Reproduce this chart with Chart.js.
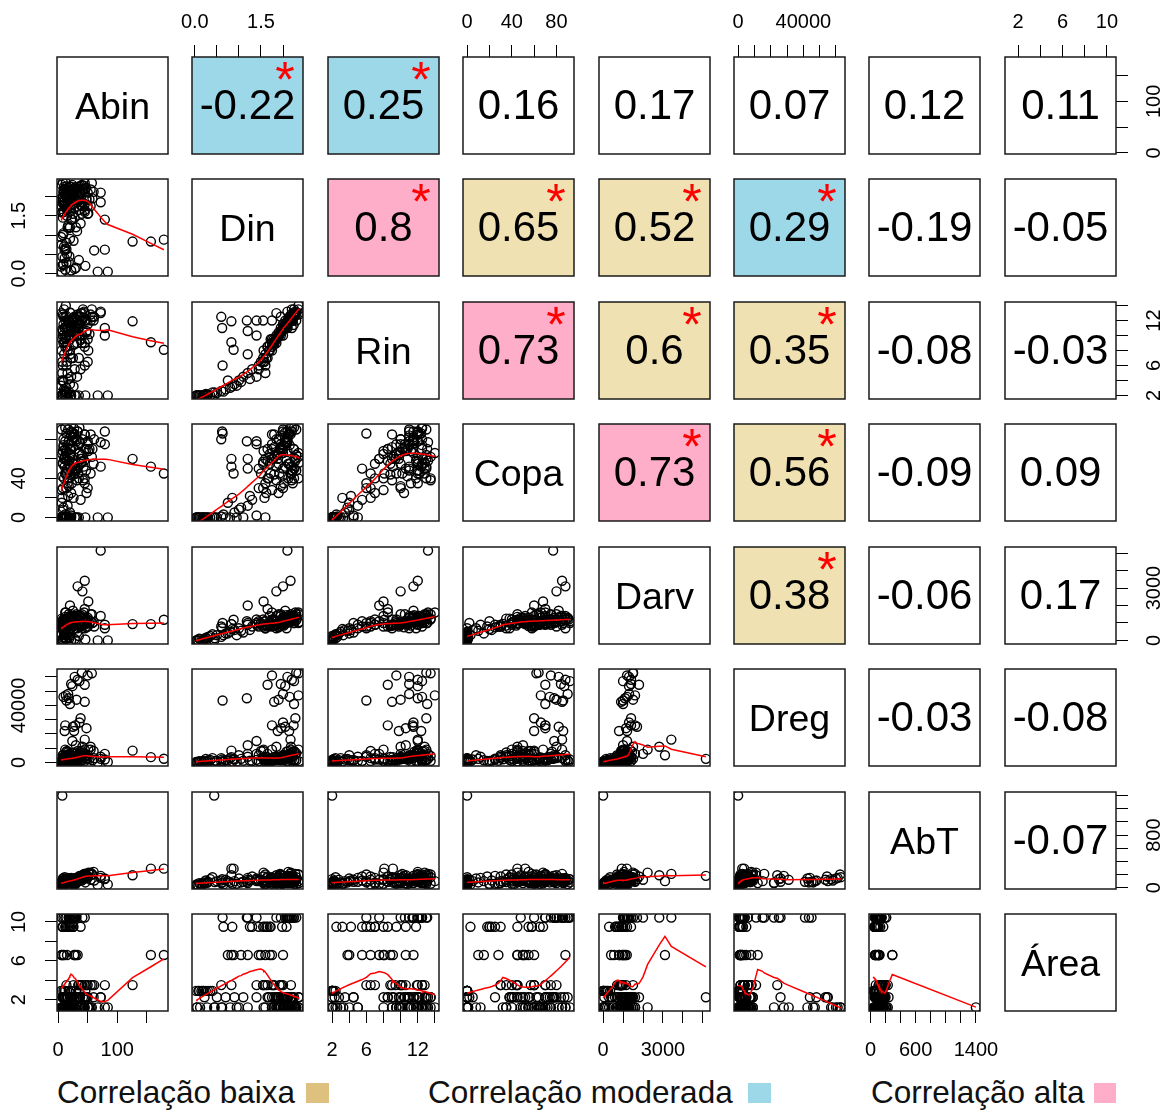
<!DOCTYPE html>
<html>
<head>
<meta charset="utf-8">
<script src="https://cdn.jsdelivr.net/npm/chart.js@4.4.1/dist/chart.umd.min.js"></script>
<style>
html,body{margin:0;padding:0;background:#fff;}
#wrap{position:relative;width:1168px;height:1112px;overflow:hidden;background:#fff;}
#wrap canvas{position:absolute;}
.lg{position:absolute;top:1077px;font-family:'Liberation Sans',Arial,sans-serif;font-size:31.5px;line-height:31px;color:#111;white-space:nowrap;}
.sq{position:absolute;top:1083px;height:20px;}
</style>
</head>
<body>
<div id="wrap">
  <div class="lg" style="left:57px">Correlação baixa</div>
  <div class="sq" style="left:306px;width:23px;background:#DFC17F"></div>
  <div class="lg" style="left:428px">Correlação moderada</div>
  <div class="sq" style="left:748px;width:23px;background:#9DD8E9"></div>
  <div class="lg" style="left:871px">Correlação alta</div>
  <div class="sq" style="left:1094px;width:22px;background:#FFAEC9"></div>
</div>
<script>
// ---------------- data ----------------
const varNames = ['Abin','Din','Rin','Copa','Darv','Dreg','AbT','Área'];

const abin = [30,46,67,84,7,12,18,22,9,35,15,6,11,28,8,19,5,14,
  10,14,20,8,32,16,26,38,12,6,9,5,22,7,17,11,
  61,79,72,79,55,50,58,
  126,157,179,
  14,18,24,30,40,
  72,45,41,51,20,33,
  28,33,22,40,24,50,36,45,57,
  9,31,20,13,45,17,
  12,36,11,25,48,38,
  8,15,25,10,35,20,45,28,9,16, 50,13,22,7,8,15,22,30,12,18, 38,10,20,45,14,26,44,7,19,55,
  16,34,23,60,27,12,21,37,27,29, 6,11,32,24,42,18,8,26,14,48,
  7,12,18,25,33,40,9,15,22,28,36,6,11,19,27,34,43,8,14,21,31,38,47,53];
const din = [0.15,0.20,0.05,0.05,0.44,0.10,0.30,0.08,0.25,0.35,0.50,0.03,0.40,0.12,0.22,0.45,0.18,0.28,
  0.70,0.80,0.90,1.00,1.10,1.20,0.85,1.30,0.65,0.75,1.05,0.95,1.40,1.60,1.25,0.60,
  0.60,0.62,1.85,1.40,1.75,2.10,1.95,
  0.83,0.83,0.88,
  0.63,1.18,1.40,1.20,1.55,
  2.10,2.17,1.85,1.56,1.20,2.00,
  2.10,2.20,1.95,2.30,2.05,1.75,2.25,1.65,2.35,
  2.15,1.90,2.25,2.35,1.80,2.00,
  1.75,2.00,1.88,2.05,1.96,2.28,
  1.45,1.50,1.55,1.60,1.65,1.70,1.60,1.45,1.80,1.68, 1.55,1.72,1.62,1.58,1.90,2.00,2.10,2.20,2.20,1.95,
  2.15,2.25,1.85,2.35,2.00,2.12,2.28,1.98,2.08,2.18, 2.22,1.92,2.02,2.12,2.15,2.18,2.26,2.08,2.14,2.24,
  1.75,2.05,1.85,2.30,2.20,1.95,2.36,1.80,2.10,1.90,
  1.85,2.05,2.15,1.95,2.25,1.75,2.10,1.65,2.00,2.20,1.90,2.30,1.80,2.12,1.70,2.02,2.18,1.98,2.26,1.88,2.08,1.78,2.22,1.93];
const rin = [2.0,2.0,2.0,2.0,2.0,2.0,2.1,2.0,2.2,2.0,2.3,2.0,2.4,2.0,2.0,2.4,2.0,2.1,
  2.8,3.0,3.5,4.0,4.5,5.0,3.2,5.5,2.5,4.0,3.8,3.3,4.5,5.0,4.2,2.6,
  12.5,11.0,13.0,10.0,12.0,11.5,12.5,
  11.9,9.1,8.1,
  6.0,12.0,12.0,10.6,12.0,
  13.2,12.0,10.0,8.0,7.5,11.5,
  11.0,12.0,11.0,13.0,12.0,9.5,12.5,8.5,13.5,
  12.5,10.0,13.1,14.0,9.0,11.0,
  8.5,11.5,9.8,11.5,10.6,13.0,
  6.0,6.5,7.0,7.5,7.0,8.0,6.0,5.5,9.0,8.0, 6.5,9.5,7.0,6.5,10.0,11.0,12.0,11.0,12.5,10.5,
  12.5,13.5,9.5,13.0,10.0,12.2,13.2,10.8,11.8,12.8, 12.0,10.2,11.2,12.0,12.5,12.0,13.0,11.6,12.4,11.4,
  8.0,11.0,9.0,12.0,13.5,10.0,12.8,8.8,11.2,10.4,
  9.5,11.0,12.0,10.5,12.8,9.0,11.5,8.5,10.8,12.2,10.0,13.0,9.2,11.8,8.8,11.0,12.4,10.6,12.6,9.8,11.4,9.4,12.0,10.2];
const copa = [0,0,0,0,0,0,0,0,0,0,0,0,0,0,0,0,0,0,
  0,0,5,8,0,12,20,18,3,15,10,0,2,0,22,1,
  80,88,52,75,85,78,70,
  60,52,45,
  86,78,78,50,57,
  77,85,80,68,60,88,
  82,88,84,64,87,75,92,70,62,
  74,80,70,66,85,90,
  70,66,60,82,70,60,
  30,45,55,60,40,65,35,50,72,40, 30,45,25,20,55,50,88,48,92,75,
  55,40,65,40,30,85,58,42,58,45, 35,45,35,55,91,45,50,76,86,70,
  28,52,38,48,38,32,56,44,68,25,
  65,78,55,72,50,60,80,58,70,45,66,90,62,40,55,74,52,68,60,64,78,60,48,70];
const darv = [0,50,0,0,0,100,200,0,150,250,300,0,350,80,60,120,0,90,
  400,500,600,700,450,900,650,800,300,400,550,300,1000,700,600,200,
  800,700,1400,900,1100,1300,1000,
  936,936,1186,
  1000,1100,1200,1000,900,
  5150,3418,2814,2230,2000,3100,
  1300,1400,1400,1500,1300,1200,1000,1800,1500,
  1200,1500,1000,1600,900,1300,
  1600,1300,800,1700,1150,1400,
  800,1000,1200,1100,900,1400,700,1100,1200,1000, 800,1000,900,1100,1000,1100,1200,1300,1100,1500,
  1300,1200,1100,1000,900,1400,1600,1100,700,1500, 1250,950,850,1050,1200,1350,1300,1450,1200,1400,
  800,1000,700,1150,1250,950,1050,850,1100,750,
  900,1000,1100,950,1200,850,1050,800,900,1150,1000,1250,880,1020,820,980,1100,940,1180,900,1060,860,1140,990];
const dreg = [500,1200,0,300,0,800,1500,200,2500,1800,900,400,3000,600,700,1100,0,300,
  1500,3000,2000,5000,1200,4000,500,1000,800,1500,2500,700,1800,900,1200,600,
  3000,2000,4000,6000,9000,5000,1500,
  8250,3700,2550,
  43400,45000,15000,12000,8000,
  2500,16000,11000,9000,6000,5000,
  60000,58000,55000,63000,53500,61000,57000,54500,62500,
  46000,44000,41000,47000,42500,48000,
  26000,28000,22000,25000,24000,31000,
  5000,8000,3000,2000,6000,1000,4000,900,1500,2500, 3000,700,2000,1000,3000,5000,1000,4000,2000,2500,
  5000,1000,3000,9000,4000,3000,6000,2000,1000,11000, 7000,3500,5000,8000,500,9000,2000,7500,22000,26000,
  1200,3000,1800,6500,4500,2200,800,3800,500,2600,
  2000,4000,6000,3000,8000,1500,4000,1000,2500,7000,3500,1500,1800,4500,1200,3800,6500,2800,7500,2200,3000,1600,4200,2600];
const abt = [60,80,40,50,1400,70,90,35,110,130,100,45,160,55,65,85,50,75,
  120,80,100,140,90,150,60,170,50,100,80,60,120,90,110,70,
  110,130,150,140,120,180,200,
  190,290,290,
  80,90,100,70,110,
  180,210,190,230,120,100,
  140,110,100,160,120,150,130,170,200,
  80,150,90,100,140,110,
  90,180,75,130,190,120,
  100,120,80,60,150,130,200,110,140,120, 170,80,60,50,90,120,150,100,80,110,
  170,60,90,200,70,140,210,55,95,230, 85,160,120,240,130,100,110,150,70,140,
  60,100,150,120,160,90,70,130,95,180,
  60,80,100,120,140,160,70,90,110,130,150,55,75,95,115,135,170,65,85,105,125,145,190,210];
const area = [2.9,2.9,1.2,1.2,1.2,2.9,2.9,2.9,2.9,2.9,2.25,2.9,2.9,1.2,2.25,1.2,2.9,1.2,
  2.25,1.2,2.25,1.2,2.25,1.2,9.5,9.5,9.5,6.6,6.6,1.2,2.25,1.2,9.5,1.2,
  3.5,1.2,2.25,3.5,1.2,2.25,3.5,
  3.5,6.6,6.6,
  10.45,10.45,10.45,6.6,3.5,
  2.25,10.45,10.45,1.2,10.45,6.6,
  1.2,1.2,2.25,1.2,2.25,1.2,1.2,2.25,1.2,
  1.2,2.25,10.45,1.2,1.2,2.25,
  2.25,1.2,1.2,10.45,3.5,1.2,
  9.5,6.6,9.5,6.6,3.5,9.5,3.5,6.6,1.2,2.25, 3.5,9.5,9.5,9.5,1.2,2.25,10.45,10.45,10.45,10.45,
  1.2,2.25,1.2,2.25,3.5,10.45,1.2,2.25,9.5,3.5, 1.2,3.5,1.2,2.25,10.45,2.25,1.2,2.25,10.45,10.45,
  6.6,1.2,2.25,1.2,2.25,1.2,2.25,3.5,1.2,2.25,
  1.2,2.25,1.2,2.25,1.2,3.5,10.45,9.5,1.2,2.25,1.2,10.45,2.25,1.2,6.6,2.25,1.2,9.5,1.2,2.25,10.45,3.5,2.25,1.2];

// correlation coefficients shown in the upper panels (row variable vs the following variables)
const corAbin = [-0.22, 0.25, 0.16, 0.17, 0.07, 0.12, 0.11];
const corDin  = [0.8, 0.65, 0.52, 0.29, -0.19, -0.05];
const corRin  = [0.73, 0.6, 0.35, -0.08, -0.03];
const corCopa = [0.73, 0.56, -0.09, 0.09];
const corDarv = [0.38, -0.06, 0.17];
const corDreg = [-0.03, -0.08];
const corAbT  = [-0.07];
// significance flags (asterisk)
const sigAbin = [1,1,0,0,0,0,0];
const sigDin  = [1,1,1,1,0,0];
const sigRin  = [1,1,1,0,0];
const sigCopa = [1,1,0,0];
const sigDarv = [1,0,0];
const sigDreg = [0,0];
const sigAbT  = [0];

// tick values and labels per variable
const ticksAbin = [0,50,100,150];
const ticksDin  = [0,0.5,1,1.5,2];
const ticksRin  = [2,4,6,8,10,12,14];
const ticksCopa = [0,20,40,60,80];
const ticksDarv = [0,1000,2000,3000,4000,5000];
const ticksDreg = [0,10000,20000,30000,40000,50000,60000];
const ticksAbT  = [0,200,400,600,800,1000,1200,1400];
const ticksArea = [2,4,6,8,10];
const labelsAbin = ['0','','100',''];
const labelsDin  = ['0.0','','','1.5',''];
const labelsRin  = ['2','','6','','','12',''];
const labelsCopaTop  = ['0','','40','','80'];
const labelsCopaSide = ['0','','40','',''];
const labelsDarv = ['0','','','3000','',''];
const labelsDreg = ['0','','','','40000','',''];
const labelsAbTBottom = ['0','','','600','','','','1400'];
const labelsAbTSide   = ['0','','','','800','','',''];
const labelsArea = ['2','','6','','10'];

// ---------------- assembly ----------------
const columns = [abin, din, rin, copa, darv, dreg, abt, area];
const corRows = [corAbin, corDin, corRin, corCopa, corDarv, corDreg, corAbT];
const sigRows = [sigAbin, sigDin, sigRin, sigCopa, sigDarv, sigDreg, sigAbT];
const tickVals = [ticksAbin, ticksDin, ticksRin, ticksCopa, ticksDarv, ticksDreg, ticksAbT, ticksArea];
const tickLabs = [
  {bottom: labelsAbin, right: labelsAbin},
  {top: labelsDin, left: labelsDin},
  {bottom: labelsRin, right: labelsRin},
  {top: labelsCopaTop, left: labelsCopaSide},
  {bottom: labelsDarv, right: labelsDarv},
  {top: labelsDreg, left: labelsDreg},
  {bottom: labelsAbTBottom, right: labelsAbTSide},
  {top: labelsArea, left: labelsArea}
];

const FONT = "'Liberation Sans', Arial, sans-serif";
const TICK_FONT = 20;
const PW = 111, PH = 97, M = 60;
const colLeft = [57,192,328,463,599,734,869,1005];
const rowTop  = [57,179,302,424,547,669,792,914];
const COL_LOW = '#EFE1B2', COL_MOD = '#9DD8E9', COL_HIGH = '#FFAEC9';

Chart.defaults.font.family = FONT;

// R-style lowess (port of clowess), used like panel.smooth
function lowest(x, y, n, xs, nleft, nright, w, userw, rw) {
  const range = x[n-1] - x[0];
  const h = Math.max(xs - x[nleft], x[nright] - xs);
  const h9 = 0.999*h, h1 = 0.001*h;
  let a = 0, j = nleft;
  while (j < n) {
    w[j] = 0;
    const r = Math.abs(x[j] - xs);
    if (r <= h9) {
      if (r <= h1) w[j] = 1; else { const q = r/h; const c = 1 - q*q*q; w[j] = c*c*c; }
      if (userw) w[j] *= rw[j];
      a += w[j];
    } else if (x[j] > xs) break;
    j++;
  }
  const nrt = j - 1;
  if (a <= 0) return null;
  for (j = nleft; j <= nrt; j++) w[j] /= a;
  if (h > 0) {
    a = 0;
    for (j = nleft; j <= nrt; j++) a += w[j]*x[j];
    let b = xs - a, c = 0;
    for (j = nleft; j <= nrt; j++) c += w[j]*(x[j]-a)*(x[j]-a);
    if (Math.sqrt(c) > 0.001*range) {
      b /= c;
      for (j = nleft; j <= nrt; j++) w[j] *= (b*(x[j]-a) + 1);
    }
  }
  let ys = 0;
  for (j = nleft; j <= nrt; j++) ys += w[j]*y[j];
  return ys;
}
function lowess(xin, yin, f = 2/3, nsteps = 3) {
  const idx = xin.map((v,i)=>i).sort((p,q)=> xin[p]-xin[q] || p-q);
  const x = idx.map(i=>xin[i]), y = idx.map(i=>yin[i]);
  const n = x.length;
  const delta = 0.01*(x[n-1]-x[0]);
  const ys = new Array(n).fill(0), rw = new Array(n).fill(0), res = new Array(n).fill(0);
  const ns = Math.max(2, Math.min(n, Math.floor(f*n + 1e-7)));
  let iter = 1;
  while (iter <= nsteps + 1) {
    let nleft = 0, nright = ns - 1, last = -1, i = 0;
    for (;;) {
      if (nright < n - 1) {
        const d1 = x[i] - x[nleft], d2 = x[nright+1] - x[i];
        if (d1 > d2) { nleft++; nright++; continue; }
      }
      const r = lowest(x, y, n, x[i], nleft, nright, res, iter > 1, rw);
      ys[i] = (r === null) ? y[i] : r;
      if (last < i - 1) {
        const denom = x[i] - x[last];
        for (let j = last + 1; j < i; j++) {
          const alpha = (x[j] - x[last]) / denom;
          ys[j] = alpha*ys[i] + (1-alpha)*ys[last];
        }
      }
      last = i;
      const cut = x[last] + delta;
      for (i = last + 1; i < n; i++) {
        if (x[i] > cut) break;
        if (x[i] === x[last]) { ys[i] = ys[last]; last = i; }
      }
      i = Math.max(last + 1, i - 1);
      if (last >= n - 1) break;
    }
    for (let k = 0; k < n; k++) res[k] = y[k] - ys[k];
    let sc = 0; for (let k = 0; k < n; k++) sc += Math.abs(res[k]); sc /= n;
    if (iter > nsteps) break;
    const srt = res.map(Math.abs).sort((p,q)=>p-q);
    const m1 = Math.floor(n/2);
    const cmad = (n % 2 === 0) ? 3*(srt[m1-1] + srt[m1]) : 6*srt[m1];
    if (cmad < 1e-7*sc) break;
    const c9 = 0.999*cmad, c1 = 0.001*cmad;
    for (let k = 0; k < n; k++) {
      const r = Math.abs(res[k]);
      if (r <= c1) rw[k] = 1;
      else if (r <= c9) { const u = r/cmad; const t = 1 - u*u; rw[k] = t*t; }
      else rw[k] = 0;
    }
    iter++;
  }
  return x.map((v,k)=>({x: v, y: ys[k]}));
}

function usr(arr) {
  const mn = Math.min(...arr), mx = Math.max(...arr), r = mx - mn;
  return [mn - 0.04*r, mx + 0.04*r];
}
const mctx = document.createElement('canvas').getContext('2d');
function widest(labels) {
  mctx.font = 'normal ' + TICK_FONT + 'px ' + FONT;
  return Math.max(...labels.map(s => mctx.measureText(s).width));
}

function axisCfg(v, side, show, pos) {
  const rg = usr(columns[v]);
  const cfg = {type: 'linear', min: rg[0], max: rg[1], display: show, position: pos};
  if (!show) return cfg;
  const vals = tickVals[v], labs = tickLabs[v][side];
  cfg.afterBuildTicks = s => { s.ticks = vals.map(t => ({value: t})); };
  cfg.ticks = {
    autoSkip: false, color: '#000', font: {family: FONT, size: TICK_FONT},
    callback: (val) => { const k = vals.indexOf(val); return k >= 0 ? labs[k] : ''; }
  };
  if (side === 'top' || side === 'bottom') {
    cfg.ticks.minRotation = 0; cfg.ticks.maxRotation = 0;
    cfg.ticks.padding = side === 'top' ? 11 : 15;
    cfg.afterFit = s => { s.height = M; };
  } else {
    cfg.ticks.minRotation = 90; cfg.ticks.maxRotation = 90;
    cfg.ticks.crossAlign = 'center';
    cfg.ticks.padding = 26 - widest(labs)/2;
    cfg.afterFit = s => { s.width = M; };
  }
  cfg.grid = {display: true, drawOnChartArea: false, drawTicks: true, tickLength: 12, tickColor: '#000', tickWidth: 1, color: '#000'};
  cfg.border = {display: false};
  return cfg;
}

const framePlugin = {
  id: 'frame',
  beforeDatasetsDraw(chart, args, o) {
    const a = chart.chartArea, ctx = chart.ctx;
    if (o.fill) {
      ctx.save(); ctx.fillStyle = o.fill;
      ctx.fillRect(a.left, a.top, a.right - a.left, a.bottom - a.top);
      ctx.restore();
    }
  },
  afterDraw(chart, args, o) {
    const a = chart.chartArea, ctx = chart.ctx;
    const cx = (a.left + a.right)/2, cy = (a.top + a.bottom)/2;
    ctx.save();
    if (o.text) {
      ctx.fillStyle = '#000';
      ctx.font = (o.big ? 42 : 37.5) + 'px ' + FONT;
      ctx.textAlign = 'center'; ctx.textBaseline = 'alphabetic';
      ctx.fillText(o.text, cx, cy + 13);
    }
    if (o.star) {
      ctx.fillStyle = '#ff0000';
      ctx.font = '50px ' + FONT;
      ctx.textAlign = 'center'; ctx.textBaseline = 'alphabetic';
      ctx.fillText('*', a.right - 18, a.top + 40);
    }
    ctx.strokeStyle = '#1a1a1a'; ctx.lineWidth = 1.5;
    ctx.strokeRect(a.left, a.top, a.right - a.left, a.bottom - a.top);
    ctx.restore();
  }
};

const wrap = document.getElementById('wrap');
for (let i = 0; i < 8; i++) {
  for (let j = 0; j < 8; j++) {
    const cv = document.createElement('canvas');
    cv.width = PW + 2*M; cv.height = PH + 2*M;
    cv.style.left = (colLeft[j] - M) + 'px';
    cv.style.top = (rowTop[i] - M) + 'px';
    wrap.appendChild(cv);
    const xSide = (i === 0 && j % 2 === 1) ? 'top' : (i === 7 && j % 2 === 0) ? 'bottom' : null;
    const ySide = (j === 0 && i % 2 === 1) ? 'left' : (j === 7 && i % 2 === 0) ? 'right' : null;
    const pad = {
      top: xSide === 'top' ? 0 : M, bottom: xSide === 'bottom' ? 0 : M,
      left: ySide === 'left' ? 0 : M, right: ySide === 'right' ? 0 : M
    };
    const datasets = [];
    const frame = {};
    if (i > j) {
      const xs = columns[j], ys = columns[i];
      datasets.push({
        type: 'line', data: lowess(xs, ys), borderColor: '#ff0000', borderWidth: 1.5,
        pointRadius: 0, fill: false, tension: 0, clip: 0, order: 0
      });
      datasets.push({
        type: 'scatter', data: xs.map((x, k) => ({x: x, y: ys[k]})),
        pointRadius: 4.5, pointStyle: 'circle', borderColor: '#000', borderWidth: 1.4,
        backgroundColor: 'rgba(0,0,0,0)', clip: 0, order: 1
      });
    } else if (i === j) {
      frame.text = varNames[i];
    } else {
      const r = corRows[i][j - i - 1], s = sigRows[i][j - i - 1];
      frame.text = String(r); frame.big = true;
      if (s) {
        frame.star = true;
        const ar = Math.abs(r);
        frame.fill = ar >= 0.7 ? COL_HIGH : ar >= 0.3 ? COL_LOW : COL_MOD;
      }
    }
    new Chart(cv, {
      type: 'scatter',
      data: {datasets},
      options: {
        responsive: false, animation: false, events: [],
        layout: {padding: pad},
        plugins: {legend: {display: false}, tooltip: {enabled: false}, frame},
        scales: {
          x: axisCfg(j, xSide, !!xSide, xSide || 'bottom'),
          y: axisCfg(i, ySide, !!ySide, ySide || 'left')
        }
      },
      plugins: [framePlugin]
    });
  }
}
</script>
</body>
</html>
